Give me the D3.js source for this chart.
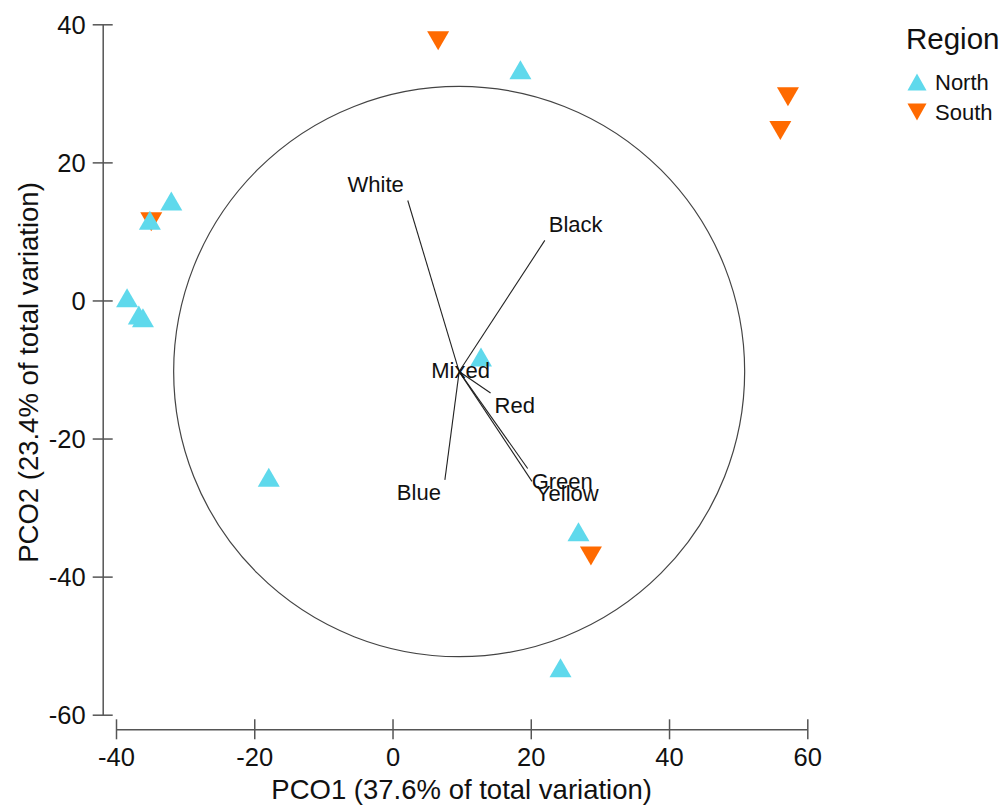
<!DOCTYPE html>
<html>
<head>
<meta charset="utf-8">
<script src="https://cdn.jsdelivr.net/npm/d3@7"></script>
<style>
  html, body { margin: 0; padding: 0; background: #fff; }
  svg { display: block; font-family: "Liberation Sans", Arial, sans-serif; }
</style>
</head>
<body>
<svg id="chart" width="1005" height="805"></svg>
<script>
// ---- data ----
const regions = ["North", "South"];
const northX = [18.5, -32.0, -35.1, -38.4, -36.7, -36.1, 12.8, -17.9, 26.9, 24.3];
const northY = [33.4, 14.4, 11.6, 0.4, -2.1, -2.5, -8.2, -25.6, -33.5, -53.2];
const southX = [6.6, 57.2, 56.1, -34.9, 28.7];
const southY = [37.6, 29.5, 24.6, 11.4, -37.0];

const vectorNames = ["White", "Black", "Mixed", "Red", "Green", "Yellow", "Blue"];
const vectorX = [-0.18, 0.30, 0.005, 0.11, 0.24, 0.255, -0.05];
const vectorY = [0.60, 0.46, -0.005, -0.075, -0.34, -0.385, -0.38];
const circleCenter = [9.64, -10.3];
const circleRadius = 41.3;

const xTicks = [-40, -20, 0, 20, 40, 60];
const yTicks = [-60, -40, -20, 0, 20, 40];
const xTitle = "PCO1 (37.6% of total variation)";
const yTitle = "PCO2 (23.4% of total variation)";
const legendTitle = "Region";

// ---- layout ----
const colors = { North: "#5fd9ec", South: "#ff6a00" };
const axisColor = "#555";
const svg = d3.select("#chart");

const x = d3.scaleLinear().domain([-40, 60]).range([116, 807.3]);
const y = d3.scaleLinear().domain([-60, 40]).range([714.7, 24.3]);
const yAxisX = 102.7, xAxisY = 729.3;
const fmt = d => String(d);

// y axis
const gy = svg.append("g").attr("transform", `translate(${yAxisX},0)`)
  .call(d3.axisLeft(y).tickValues(yTicks).tickSizeOuter(0).tickSizeInner(10).tickFormat(fmt));
gy.select(".domain").attr("stroke", axisColor).attr("stroke-width", 1.5);
gy.selectAll(".tick line").attr("x1", -10).attr("x2", 10).attr("stroke", axisColor).attr("stroke-width", 1.5);
gy.selectAll(".tick text").attr("x", -17).attr("dy", "0.35em")
  .attr("font-size", 25.5).attr("fill", "#111").attr("font-family", "Liberation Sans, Arial, sans-serif");

// x axis
const gx = svg.append("g").attr("transform", `translate(0,${xAxisY})`)
  .call(d3.axisBottom(x).tickValues(xTicks).tickSizeOuter(0).tickSizeInner(10).tickFormat(fmt));
gx.select(".domain").attr("stroke", axisColor).attr("stroke-width", 1.5);
gx.selectAll(".tick line").attr("y1", -10).attr("y2", 10).attr("stroke", axisColor).attr("stroke-width", 1.5);
gx.selectAll(".tick text").attr("y", 37).attr("dy", 0)
  .attr("font-size", 25.5).attr("fill", "#111").attr("font-family", "Liberation Sans, Arial, sans-serif");

// axis titles
svg.append("text").attr("x", (x.range()[0] + x.range()[1]) / 2).attr("y", 799)
  .attr("text-anchor", "middle").attr("font-size", 27.5).attr("fill", "#111").text(xTitle);
svg.append("text")
  .attr("transform", `translate(38,${(y.range()[0] + y.range()[1]) / 2 + 3}) rotate(-90)`)
  .attr("text-anchor", "middle").attr("font-size", 27.5).attr("fill", "#111").text(yTitle);

// vector circle
const cx = x(circleCenter[0]), cy = y(circleCenter[1]);
svg.append("ellipse").attr("cx", cx).attr("cy", cy)
  .attr("rx", x(circleCenter[0] + circleRadius) - cx)
  .attr("ry", cy - y(circleCenter[1] + circleRadius))
  .attr("fill", "none").attr("stroke", "#444").attr("stroke-width", 1.2);

// triangles
function triPath(w, h, up) {
  return up
    ? `M0,${-h / 2}L${w / 2},${h / 2}L${-w / 2},${h / 2}Z`
    : `M0,${h / 2}L${w / 2},${-h / 2}L${-w / 2},${-h / 2}Z`;
}

const southPts = southX.map((v, i) => ({ x: v, y: southY[i] }));
const northPts = northX.map((v, i) => ({ x: v, y: northY[i] }));

svg.append("g").selectAll("path").data(southPts).join("path")
  .attr("transform", d => `translate(${x(d.x)},${y(d.y)})`)
  .attr("d", triPath(22, 19, false)).attr("fill", colors.South);
svg.append("g").selectAll("path").data(northPts).join("path")
  .attr("transform", d => `translate(${x(d.x)},${y(d.y)})`)
  .attr("d", triPath(22, 19, true)).attr("fill", colors.North);

// vectors
const vecs = vectorNames.map((n, i) => {
  const ex = x(circleCenter[0] + vectorX[i] * circleRadius);
  const ey = y(circleCenter[1] + vectorY[i] * circleRadius);
  return { name: n, ex, ey, dx: ex - cx, dy: ey - cy };
});
const vg = svg.append("g");
vg.selectAll("line").data(vecs).join("line")
  .attr("x1", cx).attr("y1", cy).attr("x2", d => d.ex).attr("y2", d => d.ey)
  .attr("stroke", "#222").attr("stroke-width", 1.1);
vg.selectAll("text").data(vecs).join("text")
  .attr("font-size", 22).attr("fill", "#111")
  .attr("text-anchor", d => Math.hypot(d.dx, d.dy) < 10 ? "middle" : (d.dx >= 0 ? "start" : "end"))
  .attr("x", d => Math.hypot(d.dx, d.dy) < 10 ? d.ex : d.ex + (d.dx >= 0 ? 4 : -4))
  .attr("y", d => Math.hypot(d.dx, d.dy) < 10 ? d.ey + 5 : (d.dy < 0 ? d.ey - 8 : d.ey + 20))
  .text(d => d.name);

// legend
const lg = svg.append("g");
lg.append("text").attr("x", 906).attr("y", 49).attr("font-size", 29.5).attr("fill", "#111").text(legendTitle);
regions.forEach((r, i) => {
  const ly = 82 + i * 30;
  lg.append("path").attr("transform", `translate(917,${ly})`)
    .attr("d", triPath(19, 17, r === "North")).attr("fill", colors[r]);
  lg.append("text").attr("x", 935).attr("y", ly + 8).attr("font-size", 22).attr("fill", "#111").text(r);
});
</script>
</body>
</html>
